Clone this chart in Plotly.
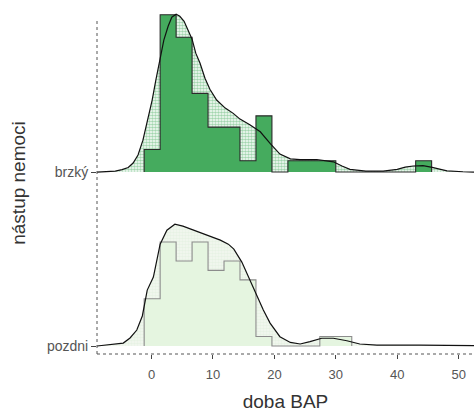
import plotly.graph_objects as go

# ridge categories (bottom to top)
groups = ["pozdni", "brzký"]

# histogram bins shared by both groups
bin_start = -1.2
bin_width = 2.6
counts_brzky = [2, 14, 12, 7, 4, 4, 1, 5, 0, 1, 1, 1, 0, 0, 0, 0, 0, 1]
counts_pozdni = [5, 11, 9, 11, 8, 9, 7, 1, 0, 0, 0, 1, 1]

# kernel density estimates (density units)
dens_x_brzky = [-8.9, -7.6, -5.9, -4.8, -3.8, -3.0, -2.2, -1.4, -0.6, 0.1, 0.7, 1.4,
                2.0, 2.7, 3.3, 4.0, 4.6, 5.3, 5.9, 6.6, 7.2, 7.9, 8.7, 9.5, 10.6,
                12.0, 13.3, 14.4, 16.0, 17.7, 19.3, 20.9, 22.6, 24.2, 26.9, 29.6,
                31.0, 32.3, 34.9, 37.7, 40.0, 41.3, 42.6, 44.2, 45.7, 47.0, 48.1,
                50.7, 52.5]
dens_brzky = [0.0, 0.0002, 0.0006, 0.0016, 0.0029, 0.0058, 0.011, 0.0206, 0.0348,
              0.0465, 0.0594, 0.0723, 0.0852, 0.0942, 0.100, 0.1019, 0.1006, 0.0974,
              0.0916, 0.0858, 0.0768, 0.0703, 0.0606, 0.0535, 0.0465, 0.0413, 0.0379,
              0.0342, 0.0306, 0.026, 0.0185, 0.0116, 0.0085, 0.008, 0.0081, 0.0066,
              0.0039, 0.0017, 0.0006, 0.0006, 0.0017, 0.0032, 0.0039, 0.0041, 0.003,
              0.0016, 0.0008, 0.0002, 0.0]
dens_x_pozdni = [-8.9, -6.8, -4.6, -3.5, -2.4, -1.5, -0.7, 0.3, 1.4, 2.5, 3.8, 5.1,
                 6.8, 9.0, 11.2, 12.5, 13.4, 14.7, 15.8, 16.9, 18.2, 19.3, 20.9,
                 22.6, 24.2, 25.8, 27.7, 29.6, 31.8, 33.9, 36.7, 43.7, 52.5]
dens_pozdni = [0.0, 0.001, 0.0019, 0.0052, 0.0103, 0.0194, 0.0361, 0.0445, 0.0658,
               0.0748, 0.0787, 0.0774, 0.0748, 0.0719, 0.0684, 0.0658, 0.0626, 0.0542,
               0.0445, 0.0342, 0.0232, 0.0148, 0.006, 0.0023, 0.0013, 0.0028, 0.005,
               0.005, 0.0034, 0.0013, 0.0006, 0.0005, 0.0003]

x_ticks = [0, 10, 20, 30, 40, 50]

RIDGE_SCALE = 8.9  # density -> ridge height (1 = spacing between ridges)

styles = {
    "brzký": dict(hist_fill="#45ab5e", hist_line="#2b2b2b", hist_dash="solid",
                  pat_fg="#45ab5e", pat_bg="#ffffff"),
    "pozdni": dict(hist_fill="#e5f5e0", hist_line="#8c8c8c", hist_dash="solid",
                   pat_fg="#dcebd8", pat_bg="#f3f8f1"),
}

data = {
    "brzký": (counts_brzky, dens_x_brzky, dens_brzky),
    "pozdni": (counts_pozdni, dens_x_pozdni, dens_pozdni),
}

fig = go.Figure()

for base, name in reversed(list(enumerate(groups))):
    counts, dx, dy = data[name]
    st = styles[name]
    n = sum(counts)

    # density area (textured)
    ys = [base + RIDGE_SCALE * v for v in dy]
    fig.add_trace(go.Scatter(
        x=dx + dx[::-1], y=ys + [base] * len(dx), mode="lines",
        fill="toself", fillcolor=st["pat_bg"], line=dict(width=0),
        fillpattern=dict(shape=".", fgcolor=st["pat_fg"], bgcolor=st["pat_bg"],
                         size=3, solidity=0.6),
        hoverinfo="skip", showlegend=False))

    # histogram as a single step outline
    hx = [bin_start]
    hy = [base]
    for i, c in enumerate(counts):
        left = bin_start + i * bin_width
        right = left + bin_width
        h = base + RIDGE_SCALE * c / (n * bin_width)
        hx += [left, right]
        hy += [h, h]
    hx.append(bin_start + len(counts) * bin_width)
    hy.append(base)
    fig.add_trace(go.Scatter(
        x=hx, y=hy, mode="lines", fill="toself", fillcolor=st["hist_fill"],
        line=dict(color=st["hist_line"], width=1.1, dash=st["hist_dash"]),
        hoverinfo="skip", showlegend=False))

    # density curve
    fig.add_trace(go.Scatter(
        x=dx, y=ys, mode="lines", line=dict(color="#111111", width=1.2),
        hoverinfo="skip", showlegend=False))

y_bottom = -0.046
fig.update_layout(
    width=474, height=416,
    margin=dict(l=97, r=0, t=12, b=62),
    plot_bgcolor="white", paper_bgcolor="white",
    font=dict(family="Liberation Sans, Arial, sans-serif"),
    xaxis=dict(range=[-8.88, 52.5], tickvals=x_ticks, ticks="outside", ticklen=4,
               tickcolor="#444444", tickfont=dict(size=13, color="#555555"),
               ticklabelstandoff=4,
               showgrid=False, zeroline=False, showline=False,
               title=dict(text="doba BAP", font=dict(size=19, color="#333333"),
                          standoff=14)),
    yaxis=dict(range=[y_bottom, 1.92], tickvals=[0, 1], ticktext=groups,
               ticks="outside", ticklen=5, tickcolor="#444444",
               tickfont=dict(size=14, color="#555555"),
               showgrid=False, zeroline=False, showline=False,
               title=dict(text="nástup nemoci", font=dict(size=19, color="#333333"),
                          standoff=16)),
    shapes=[
        dict(type="line", xref="paper", yref="paper", x0=0, x1=0, y0=0, y1=0.98,
             line=dict(color="#555555", width=1, dash="dot")),
        dict(type="line", xref="paper", yref="paper", x0=0, x1=1, y0=0, y1=0,
             line=dict(color="#555555", width=1, dash="dot")),
    ],
)

fig.write_html("out.html")
